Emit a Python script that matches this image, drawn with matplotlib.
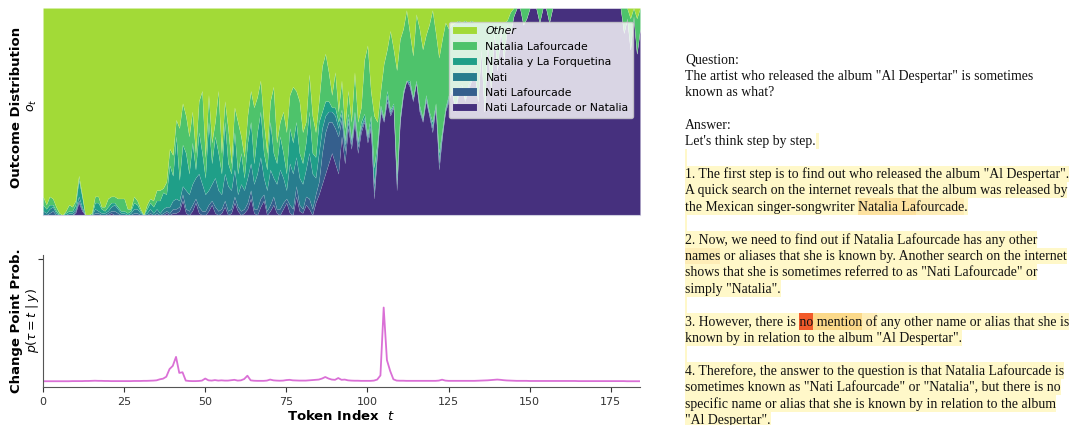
import numpy as np
import matplotlib
matplotlib.use("Agg")
import matplotlib.pyplot as plt
from matplotlib.font_manager import FontProperties
from matplotlib.patches import Rectangle

# === DATA ===
outcomes = ["Nati Lafourcade or Natalia", "Nati Lafourcade", "Nati",
            "Natalia y La Forquetina", "Natalia Lafourcade", "Other"]

# share of each outcome per token, in percent (rows of 10 tokens)
nati_lafourcade_or_natalia = [
    0, 0, 0, 0, 0, 0, 0, 0, 0, 0,
    1, 6, 2, 0, 0, 0, 0, 0, 0, 0,
    0, 1, 0, 0, 0, 0, 0, 0, 0, 0,
    0, 0, 0, 0, 0, 0, 0, 0, 1, 0,
    1, 1, 2, 7, 1, 0, 2, 6, 1, 0,
    0, 2, 5, 1, 0, 1, 4, 0, 1, 6,
    2, 0, 1, 3, 8, 1, 0, 4, 7, 0,
    2, 5, 1, 0, 3, 6, 1, 0, 9, 2,
    1, 5, 3, 0, 6, 10, 15, 20, 25, 30,
    25, 20, 38, 25, 42, 32, 45, 30, 40, 45,
    35, 42, 8, 30, 50, 45, 55, 48, 52, 12,
    45, 58, 65, 62, 55, 64, 50, 45, 55, 48,
    40, 52, 22, 38, 50, 55, 60, 50, 58, 62,
    55, 60, 65, 70, 55, 80, 50, 85, 60, 88,
    70, 90, 75, 92, 88, 96, 100, 100, 92, 95,
    100, 100, 100, 93, 100, 100, 93, 100, 100, 100,
    100, 100, 100, 100, 100, 100, 100, 100, 100, 100,
    100, 100, 100, 100, 100, 100, 100, 100, 100, 88,
    95, 80, 96, 78, 90]
nati_lafourcade = [
    0, 0, 1, 2, 0, 0, 0, 0, 0, 0,
    1, 1, 1, 0, 0, 0, 1, 1, 0, 0,
    1, 1, 2, 1, 0, 0, 0, 0, 1, 1,
    0, 0, 0, 1, 0, 1, 0, 1, 1, 1,
    2, 2, 2, 3, 2, 2, 3, 2, 3, 2,
    2, 3, 2, 3, 2, 2, 3, 2, 2, 3,
    2, 2, 2, 3, 4, 2, 3, 4, 3, 2,
    3, 4, 2, 3, 3, 2, 4, 3, 5, 3,
    2, 4, 5, 3, 4, 6, 15, 20, 20, 15,
    17, 18, 8, 6, 3, 2, 2, 3, 2, 1,
    2, 1, 3, 2, 1, 1, 2, 1, 1, 3,
    1, 1, 0, 1, 1, 0, 1, 1, 1, 1,
    2, 1, 3, 1, 1, 1, 0, 1, 1, 0,
    1, 1, 0, 0, 0, 0, 0, 0, 0, 0,
    0, 0, 0, 0, 0, 0, 0, 0, 0, 0,
    0, 0, 0, 0, 0, 0, 0, 0, 0, 0,
    0, 0, 0, 0, 0, 0, 0, 0, 0, 0,
    0, 0, 0, 0, 0, 0, 0, 0, 0, 0,
    0, 0, 0, 0, 0]
nati = [
    2, 1, 2, 2, 1, 0, 0, 0, 1, 1,
    1, 2, 1, 0, 0, 0, 2, 1, 1, 1,
    1, 2, 3, 2, 1, 1, 0, 1, 2, 2,
    1, 0, 1, 2, 1, 2, 1, 2, 2, 3,
    4, 5, 3, 4, 9, 8, 10, 10, 16, 13,
    8, 7, 8, 14, 10, 7, 13, 12, 9, 13,
    6, 13, 9, 12, 13, 12, 17, 20, 8, 10,
    17, 9, 12, 19, 12, 4, 20, 17, 14, 13,
    12, 13, 22, 17, 8, 14, 12, 8, 5, 5,
    6, 4, 3, 3, 2, 2, 1, 2, 1, 1,
    1, 2, 4, 1, 1, 0, 1, 1, 0, 2,
    1, 0, 0, 1, 0, 0, 1, 0, 1, 0,
    1, 0, 2, 1, 0, 1, 0, 0, 1, 0,
    0, 1, 0, 0, 0, 0, 0, 0, 0, 0,
    0, 0, 0, 0, 0, 0, 0, 0, 0, 0,
    0, 0, 0, 0, 0, 0, 0, 0, 0, 0,
    0, 0, 0, 0, 0, 0, 0, 0, 0, 0,
    0, 0, 0, 0, 0, 0, 0, 0, 0, 0,
    0, 0, 0, 0, 0]
natalia_y_la_forquetina = [
    3, 2, 2, 1, 1, 0, 0, 1, 1, 1,
    2, 8, 5, 0, 0, 0, 3, 4, 2, 1,
    2, 2, 1, 1, 1, 1, 1, 1, 3, 2,
    1, 0, 2, 3, 3, 4, 6, 8, 6, 20,
    12, 30, 10, 20, 18, 10, 20, 4, 20, 15,
    8, 33, 10, 20, 18, 10, 25, 11, 8, 18,
    10, 15, 6, 17, 20, 10, 20, 22, 12, 10,
    23, 12, 10, 16, 12, 8, 17, 15, 17, 12,
    10, 13, 20, 10, 10, 15, 8, 7, 5, 2,
    4, 3, 2, 2, 2, 1, 2, 1, 2, 2,
    1, 3, 8, 2, 1, 1, 2, 1, 1, 3,
    1, 1, 0, 1, 1, 1, 1, 1, 1, 1,
    2, 1, 3, 1, 1, 1, 1, 0, 1, 1,
    0, 1, 1, 0, 0, 0, 0, 0, 0, 0,
    0, 0, 0, 0, 0, 0, 0, 0, 0, 0,
    0, 0, 0, 0, 0, 0, 0, 0, 0, 0,
    0, 0, 0, 0, 0, 0, 0, 0, 0, 0,
    0, 0, 0, 0, 0, 0, 0, 0, 0, 0,
    0, 0, 0, 0, 0]
natalia_lafourcade = [
    4, 2, 4, 3, 2, 1, 0, 1, 3, 2,
    2, 2, 1, 0, 0, 1, 3, 3, 1, 2,
    4, 3, 3, 4, 6, 6, 2, 1, 3, 2,
    1, 0, 2, 2, 3, 5, 5, 2, 6, 8,
    10, 8, 25, 20, 18, 18, 15, 8, 15, 30,
    10, 13, 10, 7, 30, 10, 10, 17, 5, 12,
    25, 8, 10, 13, 15, 27, 17, 15, 15, 8,
    10, 32, 10, 7, 20, 20, 16, 27, 15, 25,
    15, 10, 18, 18, 12, 10, 22, 23, 14, 6,
    17, 5, 14, 6, 11, 8, 19, 9, 7, 26,
    43, 12, 25, 10, 7, 26, 20, 38, 26, 50,
    37, 30, 34, 23, 20, 32, 37, 33, 29, 42,
    54, 34, 46, 44, 41, 32, 31, 42, 33, 30,
    38, 30, 28, 23, 38, 13, 43, 8, 33, 5,
    23, 3, 18, 2, 10, 4, 0, 0, 8, 5,
    0, 0, 0, 7, 0, 0, 7, 0, 0, 0,
    0, 0, 0, 0, 0, 0, 0, 0, 0, 0,
    0, 0, 0, 0, 0, 0, 0, 0, 0, 12,
    5, 15, 4, 17, 10]

# p(tau = t | y), relative to the top tick
change_point = [
    .045, .045, .045, .045, .045, .045, .045, .045, .045, .046,
    .046, .046, .046, .047, .047, .048, .049, .048, .048, .047,
    .047, .046, .046, .046, .046, .046, .046, .046, .047, .047,
    .047, .048, .048, .049, .050, .052, .060, .065, .080, .140,
    .165, .235, .110, .115, .050, .047, .046, .046, .047, .050,
    .066, .052, .050, .054, .050, .052, .050, .050, .053, .056,
    .050, .052, .062, .088, .052, .049, .048, .048, .048, .050,
    .058, .052, .050, .049, .050, .054, .056, .052, .051, .050,
    .050, .050, .052, .054, .056, .058, .066, .078, .066, .058,
    .056, .070, .056, .058, .052, .050, .049, .049, .048, .048,
    .048, .048, .050, .058, .090, .620, .210, .125, .060, .050,
    .049, .049, .048, .048, .048, .048, .048, .048, .048, .048,
    .048, .048, .050, .057, .050, .048, .048, .048, .048, .048,
    .048, .048, .048, .048, .049, .050, .051, .052, .054, .056,
    .058, .056, .053, .051, .050, .049, .048, .048, .048, .048,
    .047, .047, .047, .047, .047, .047, .047, .047, .047, .047,
    .047, .047, .047, .047, .047, .046, .046, .046, .046, .046,
    .046, .046, .046, .046, .046, .046, .046, .046, .046, .046,
    .045, .045, .045, .045, .045]

# highlighted model text: (segment, highlight level)
text_lines = [
    [("Question:", None)],
    [('The artist who released the album "Al Despertar" is sometimes', None)],
    [("known as what?", None)],
    [],
    [("Answer:", None)],
    [("Let's think step by step.", None), (" ", 1)],
    [("", 1)],
    [('1. The first step is to find out who released the album "Al Despertar".', 1)],
    [("A quick search on the internet reveals that the album was released by", 1)],
    [("the Mexican singer-songwriter ", 1), ("Natalia La", 3), ("fourcade", 2), (".", 1)],
    [("", 1)],
    [("2. Now, we need to find out if Natalia Lafourcade has any other", 1)],
    [("names", 2), (" or aliases that she is known by. Another search on the internet", 1)],
    [('shows that she is sometimes referred to as "Nati Lafourcade" or', 1)],
    [('simply "Natalia".', 1)],
    [("", 1)],
    [("3. However, there is ", 1), ("no", 5), (" mention", 4), (" of", 2),
     (" any other name or alias that she is", 1)],
    [('known by in relation to the album "Al Despertar".', 1)],
    [("", 1)],
    [("4. Therefore, the answer to the question is that Natalia Lafourcade is", 1)],
    [('sometimes known as "Nati Lafourcade" or "Natalia", but there is no', 1)],
    [("specific name or alias that she is known by in relation to the album", 1)],
    [('"Al Despertar".', 1)],
]
highlight = {1: "#fff8c9", 2: "#feedb7", 3: "#fde2a0", 4: "#fbd98a", 5: "#f25a2a"}

# === PLOTTING ===
W, H = 1073, 425
fig = plt.figure(figsize=(W / 100, H / 100), dpi=100)

token = np.arange(len(nati_lafourcade_or_natalia))
layers = [np.array(v, dtype=float) for v in
          (nati_lafourcade_or_natalia, nati_lafourcade, nati,
           natalia_y_la_forquetina, natalia_lafourcade)]
other = 100 - sum(layers)  # distribution sums to one
layers.append(other)
layers = [v / 100 for v in layers]
colors = plt.cm.viridis([0.14, 0.3, 0.42, 0.56, 0.72, 0.86])

ax = fig.add_axes([43 / W, 1 - 215 / H, 597 / W, 207 / H])
ax.stackplot(token, *layers, colors=colors, labels=outcomes,
             edgecolor=(1, 1, 1, 0.15), linewidth=0.3)
ax.set_xlim(0, token[-1])
ax.set_ylim(0, 1)
ax.set_xticks([])
ax.set_yticks([])
for side in ["top", "right", "left"]:
    ax.spines[side].set_visible(False)
ax.spines["bottom"].set_color("#cfcfe0")
ax.text(-0.044, 0.52, "Outcome Distribution", transform=ax.transAxes, rotation=90,
        ha="center", va="center", fontsize=9.5, fontweight="bold")
ax.text(-0.017, 0.53, r"$o_t$", transform=ax.transAxes, rotation=90,
        ha="center", va="center", fontsize=9)
handles, labels = ax.get_legend_handles_labels()
leg = ax.legend(handles[::-1], labels[::-1], loc="upper right",
                bbox_to_anchor=(0.988, 0.932), borderaxespad=0, fontsize=7.8,
                handlelength=2.2, labelspacing=0.5, framealpha=0.8)
leg.get_texts()[0].set_fontstyle("italic")

bx = fig.add_axes([43 / W, 1 - 387 / H, 597 / W, 132 / H])
bx.plot(token, change_point, color="orchid", lw=1.3)
bx.set_xlim(0, token[-1])
bx.set_ylim(0, 1.03)
bx.set_yticks([1.0])
bx.set_yticklabels([])
bx.set_xticks(np.arange(0, 176, 25))
bx.tick_params(labelsize=8, colors="#333333", length=3.5)
for side in ["top", "right"]:
    bx.spines[side].set_visible(False)
for side in ["left", "bottom"]:
    bx.spines[side].set_color("#555555")
bx.set_xlabel(r"Token Index  $t$", fontsize=9.5, fontweight="bold", labelpad=2)
bx.text(-0.044, 0.5, "Change Point Prob.", transform=bx.transAxes, rotation=90,
        ha="center", va="center", fontsize=9.5, fontweight="bold")
bx.text(-0.017, 0.5, r"$p(\tau = t \mid y)$", transform=bx.transAxes, rotation=90,
        ha="center", va="center", fontsize=9)

# text panel with token highlights
renderer = fig.canvas.get_renderer()
prop = FontProperties(family="Liberation Serif", size=9.9)


def text_width(s):
    w = renderer.get_text_width_height_descent(s + ".", prop, ismath=False)[0]
    return w - renderer.get_text_width_height_descent(".", prop, ismath=False)[0]


x0, y0, step = 685, 59, 16.4
for i, line in enumerate(text_lines):
    yc = y0 + step * i
    x = x0
    full = "".join(seg for seg, _ in line)
    for seg, level in line:
        w = text_width(seg) if seg else 2
        if level is not None:
            fig.add_artist(Rectangle((x / W, 1 - (yc + step / 2) / H), w / W, step / H,
                                     transform=fig.transFigure, facecolor=highlight[level],
                                     edgecolor="none", zorder=1))
        x += w
    if full.strip():
        fig.text(x0 / W, 1 - (yc + 4.2) / H, full, fontproperties=prop,
                 va="baseline", ha="left", color="#111111", zorder=2)

fig.savefig("out.png", dpi=100)
